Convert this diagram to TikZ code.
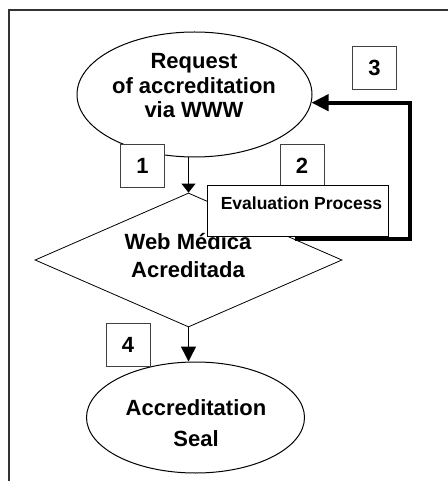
\documentclass[tikz,border=0pt]{standalone}
\usepackage{fontspec}
\setmainfont{Liberation Sans}
\usetikzlibrary{shapes.geometric,arrows.meta,calc}

\begin{document}
\begin{tikzpicture}[x=1pt, y=-1pt,
  numbox/.style={draw=black!75, fill=white, line width=0.7pt, minimum width=44pt, minimum height=43pt, inner sep=0pt, font=\bfseries\fontsize{22}{26}\selectfont},
  bigtxt/.style={align=center, inner sep=0pt, font=\bfseries\fontsize{22}{#1}\selectfont},
  bigtxt/.default=26]
  \useasboundingbox (0,0) rectangle (447,481);
  % frame
  \draw[line width=2pt, black!80] (450,10) -- (9,10) -- (9,484);

  % request
  \node[draw, ellipse, line width=1pt, minimum width=235pt, minimum height=125pt] (req) at (194.5,94.5) {};
  \node[bigtxt=24.5] (reqtxt) at (194,86) {Request\\ of accreditation\\ via WWW};
  \node[numbox] (n1) at (142.5,165.5) {1};

  % web medica
  \node[draw, diamond, line width=0.8pt, minimum width=307pt, minimum height=134pt, inner sep=0pt] (wma) at (188.5,260) {};
  \node[bigtxt=28] (wmatxt) at (188,256) {Web Médica\\ Acreditada};
  \draw[line width=0.8pt, -{Triangle[length=9pt,width=14pt]}] (wma.north |- req.south) -- (wma.north);

  % evaluation
  \node[numbox] (n2) at (302,165.5) {2};
  \node[draw, fill=white, line width=0.8pt, minimum width=181pt, minimum height=51pt] (eval) at (297.5,210.5) {};
  \node[inner sep=0pt, font=\bfseries\fontsize{17.5}{20}\selectfont] (evaltxt) at (301.5,203) {Evaluation Process};

  \coordinate (loopst) at ($(wma.north)!0.69!(wma.east)$);
  \coordinate (loopx) at (410,0);
  \draw[line width=4pt, -{Triangle[length=17pt,width=16pt]}] (loopst) -- (loopst -| loopx) |- (req.-4.4);
  \node[numbox] (n3) at (374.5,68) {3};

  % seal
  \node[draw, ellipse, line width=1pt, minimum width=218pt, minimum height=111pt] (seal) at (195.5,417.5) {};
  \node[bigtxt=31] (sealtxt) at (196,423) {Accreditation\\ Seal};
  \draw[line width=1.5pt, -{Triangle[length=15pt,width=15pt]}] (wma.south) -- (wma.south |- seal.north);
  \node[numbox] (n4) at (128,345) {4};
\end{tikzpicture}
\end{document}
